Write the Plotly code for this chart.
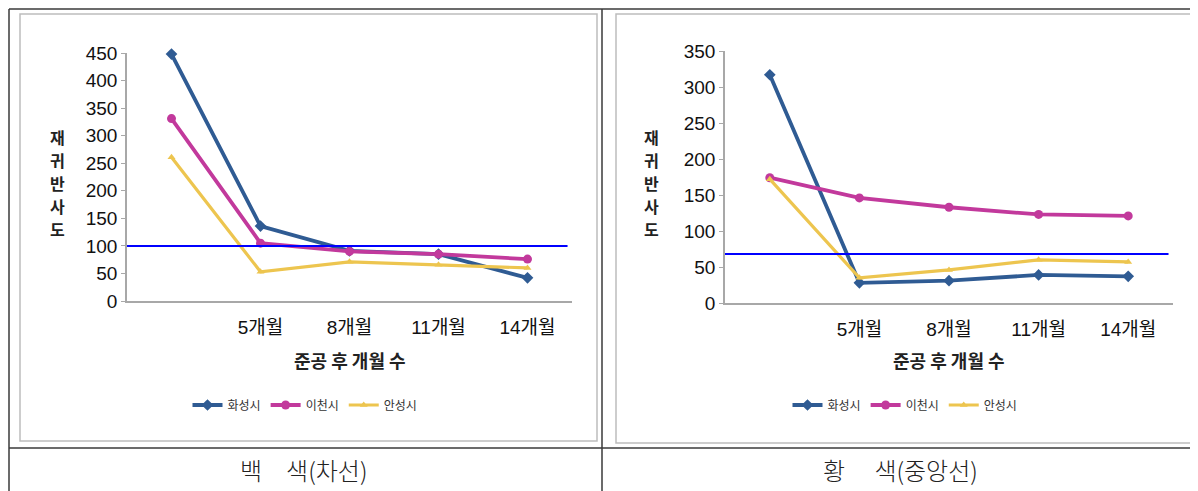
import plotly.graph_objects as go

# ---------------- data ----------------
months = ["", "5개월", "8개월", "11개월", "14개월"]
series_names = ["화성시", "이천시", "안성시"]

white_hwaseong = [448, 136, 91, 85, 42]
white_icheon = [331, 105, 90, 85, 76]
white_anseong = [261, 53, 71, 66, 60]
white_ref = 100

yellow_hwaseong = [317, 28, 31, 39, 37]
yellow_icheon = [174, 146, 133, 123, 121]
yellow_anseong = [172, 35, 46, 60, 57]
yellow_ref = 68

white_ticks = [0, 50, 100, 150, 200, 250, 300, 350, 400, 450]
yellow_ticks = [0, 50, 100, 150, 200, 250, 300, 350]

panel_titles = ["백\u3000색(차선)", "황\u3000 색(중앙선)"]
y_title = "재귀반사도"
x_title = "준공 후 개월 수"

# ---------------- style ----------------
W, H = 1198, 491
OFF = 8  # page body margin in the browser
colors = ["#2F5B93", "#C2399C", "#EDC54F"]
symbols = ["diamond", "circle", "triangle-up"]
msizes = [9, 9, 7]
lwidths = [3.8, 3.8, 3.2]
FONT = "Liberation Sans, Noto Sans CJK KR, sans-serif"
KFONT = "Noto Sans CJK KR, sans-serif"


def px_x(x):
    return (x - OFF) / W


def px_y(y):
    return 1 - (y - OFF) / H


xpos = list(range(len(months)))

fig = go.Figure()

panels = [
    dict(vals=[white_hwaseong, white_icheon, white_anseong], ref=white_ref,
         ticks=white_ticks, xa="x", ya="y", legend="legend",
         xdom=(127, 572), ydom=(301, 53)),
    dict(vals=[yellow_hwaseong, yellow_icheon, yellow_anseong], ref=yellow_ref,
         ticks=yellow_ticks, xa="x2", ya="y2", legend="legend2",
         xdom=(725, 1173), ydom=(303, 51)),
]

for p in panels:
    for i, name in enumerate(series_names):
        fig.add_trace(go.Scatter(
            x=xpos, y=p["vals"][i], name=name, mode="lines+markers",
            line=dict(color=colors[i], width=lwidths[i]),
            marker=dict(symbol=symbols[i], size=msizes[i], color=colors[i]),
            xaxis=p["xa"], yaxis=p["ya"], legend=p["legend"],
            cliponaxis=False,
        ))
    # reference line
    fig.add_shape(type="line", xref=p["xa"], yref=p["ya"],
                  x0=-0.5, x1=4.45, y0=p["ref"], y1=p["ref"],
                  line=dict(color="#0000FF", width=2))

axis_common_x = dict(
    tickvals=xpos, ticktext=months, range=[-0.5, 4.5],
    showline=True, linecolor="#A8A8A8", linewidth=1.5,
    showgrid=False, zeroline=False, ticks="",
    tickfont=dict(family=FONT, size=19, color="#111"),
    ticklabelstandoff=8, fixedrange=True, automargin=False,
)

layout = dict(
    width=W, height=H, margin=dict(l=0, r=0, t=0, b=0, pad=0, autoexpand=False),
    paper_bgcolor="white", plot_bgcolor="white",
    showlegend=True,
)

for k, p in enumerate(panels):
    sx = "" if k == 0 else "2"
    layout["xaxis" + sx] = dict(
        axis_common_x, domain=[px_x(p["xdom"][0]), px_x(p["xdom"][1])],
        anchor="y" + sx,
    )
    layout["yaxis" + sx] = dict(
        domain=[px_y(p["ydom"][0]), px_y(p["ydom"][1])],
        range=[0, p["ticks"][-1]], tickvals=p["ticks"],
        showline=True, linecolor="#A8A8A8", linewidth=1.5,
        ticks="outside", ticklen=4, tickcolor="#A8A8A8",
        showgrid=False, zeroline=False,
        tickfont=dict(family=FONT, size=19, color="#111"),
        anchor="x" + sx, fixedrange=True, automargin=False,
    )

legend_common = dict(
    orientation="h", xanchor="center", yanchor="middle",
    font=dict(family=KFONT, size=12, color="#333"),
    bgcolor="rgba(0,0,0,0)", itemwidth=30,
)
layout["legend"] = dict(legend_common, x=px_x(305), y=px_y(405))
layout["legend2"] = dict(legend_common, x=px_x(905), y=px_y(405))

fig.update_layout(**layout)

# table / frame lines
line_dark = dict(color="#3A3A3A", width=1.5)
line_light = dict(color="#BDBDBD", width=1.5)
table_lines = [
    (9, 9, 1197, 9), (9, 9, 9, 495), (602, 9, 602, 495),
    (1196, 9, 1196, 495), (9, 448, 1197, 448),
]
for x0, y0, x1, y1 in table_lines:
    fig.add_shape(type="line", xref="paper", yref="paper",
                  x0=px_x(x0), y0=px_y(y0), x1=px_x(x1), y1=px_y(y1),
                  line=line_dark)
for x0, y0, x1, y1 in [(20, 14, 597, 441), (616, 14, 1192, 443)]:
    fig.add_shape(type="rect", xref="paper", yref="paper",
                  x0=px_x(x0), y0=px_y(y0), x1=px_x(x1), y1=px_y(y1),
                  line=line_light)

# axis titles and panel captions
for k, p in enumerate(panels):
    cx = (p["xdom"][0] + p["xdom"][1]) / 2
    fig.add_annotation(text="<b>" + x_title + "</b>", xref="paper", yref="paper",
                       x=px_x(cx), y=px_y(360), showarrow=False,
                       xanchor="center", yanchor="middle",
                       font=dict(family=KFONT, size=18, color="#222"))
    ytx = 57 if k == 0 else 651
    for j, ch in enumerate(y_title):
        fig.add_annotation(text="<b>" + ch + "</b>", xref="paper", yref="paper",
                           x=px_x(ytx), y=px_y(137 + j * 23), showarrow=False,
                           xanchor="center", yanchor="middle", borderpad=0,
                           font=dict(family=KFONT, size=16, color="#222"))
    capx = 303 if k == 0 else 900
    fig.add_annotation(text=panel_titles[k], xref="paper", yref="paper",
                       x=px_x(capx), y=px_y(469), showarrow=False,
                       xanchor="center", yanchor="middle",
                       font=dict(family=KFONT, size=24, color="#222", weight=300))

fig.write_html("out.html")
